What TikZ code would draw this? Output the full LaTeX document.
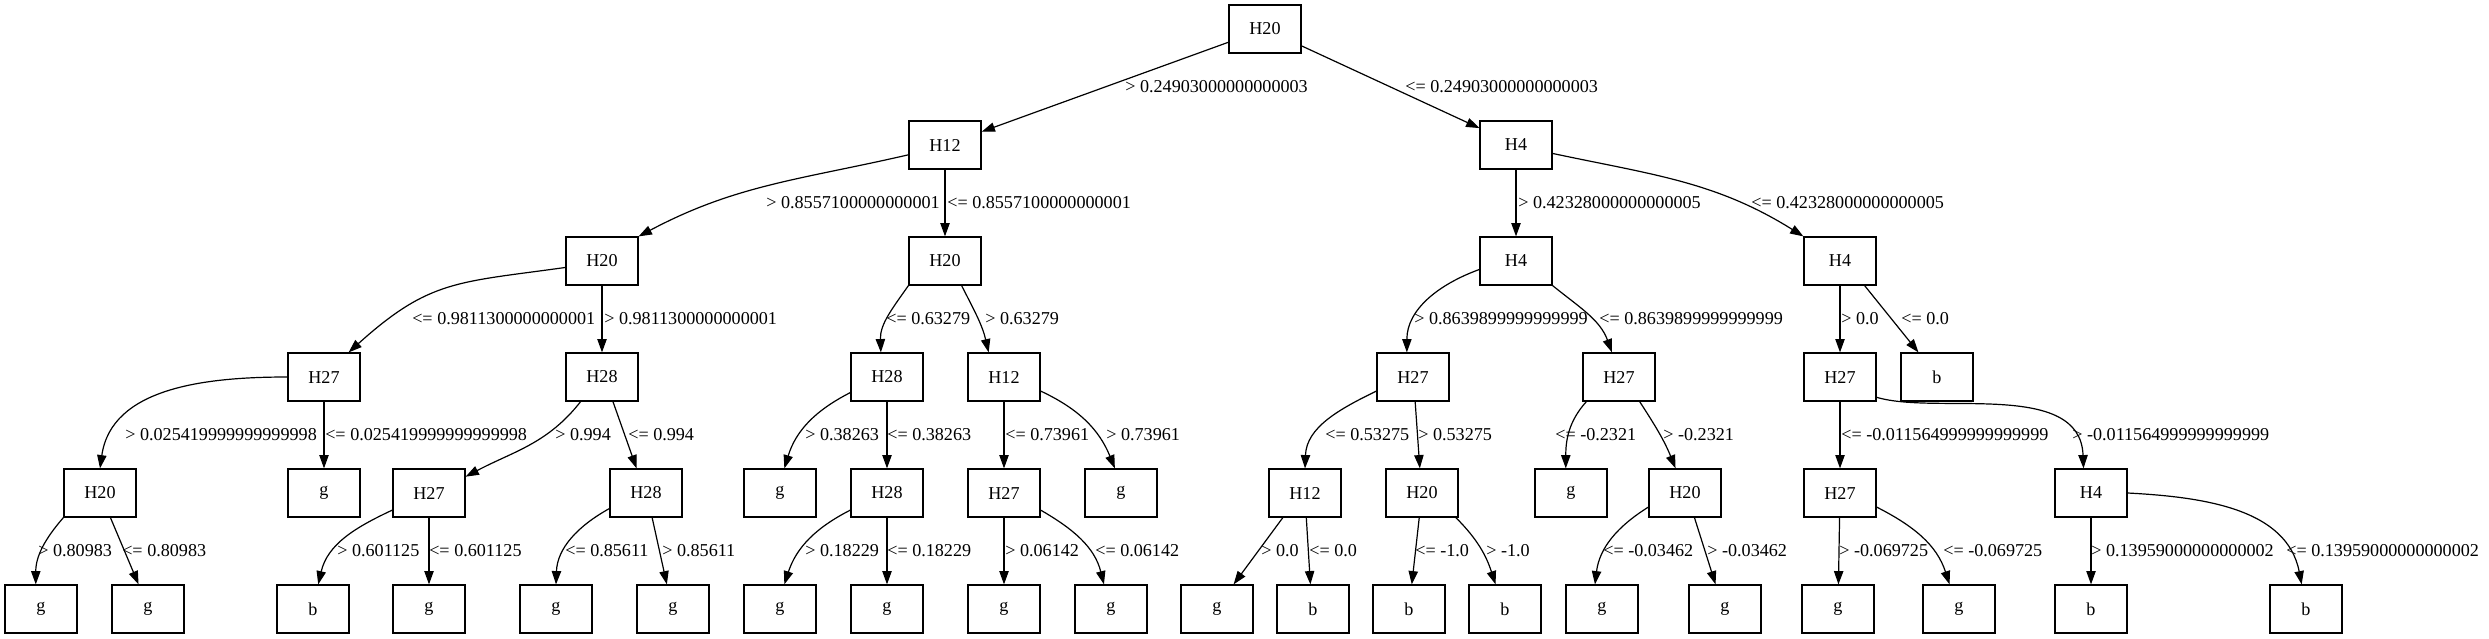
\documentclass[tikz,border=0pt]{standalone}
\usepackage{fontspec}
\setmainfont{Liberation Serif}
\usepackage{tikz}
\usetikzlibrary{arrows.meta}
\tikzstyle{box}=[draw,rectangle,line width=0.9pt,minimum width=54pt,minimum height=36pt,inner sep=0pt,font=\fontsize{13.6}{16}\selectfont]
\tikzstyle{cond}=[anchor=west,inner sep=0pt,font=\fontsize{13.6}{16}\selectfont]
\tikzstyle{edge}=[line width=0.9pt,-{Triangle[length=10pt,width=7pt]}]
\newcommand{\tnode}[4]{
  \node[box] (#1) at (#2, -#3) {#4};
}
\newcommand{\cnd}[4]{
  \node[cond] (#1) at (#2, -#3) {#4};
}

\begin{document}
\begin{tikzpicture}[x=0.75pt,y=0.75pt]
\useasboundingbox (0,0) rectangle (2489,-639);
\tnode{n}{1265}{29}{H20};
\tnode{nL}{945}{145}{H12};
\tnode{nR}{1516}{145}{H4};
\tnode{nLL}{602}{261}{H20};
\tnode{nLR}{945}{261}{H20};
\tnode{nRL}{1516}{261}{H4};
\tnode{nRR}{1840}{261}{H4};
\tnode{nLLL}{324}{377}{H27};
\tnode{nLLR}{602}{377}{H28};
\tnode{nLRL}{887}{377}{H28};
\tnode{nLRR}{1004}{377}{H12};
\tnode{nRLL}{1413}{377}{H27};
\tnode{nRLR}{1619}{377}{H27};
\tnode{nRRL}{1840}{377}{H27};
\tnode{nRRR}{1937}{377}{b};
\tnode{nLLLL}{100}{493}{H20};
\tnode{nLLLR}{324}{493}{g};
\tnode{nLLRL}{429}{493}{H27};
\tnode{nLLRR}{646}{493}{H28};
\tnode{nLRLL}{780}{493}{g};
\tnode{nLRLR}{887}{493}{H28};
\tnode{nLRRL}{1004}{493}{H27};
\tnode{nLRRR}{1121}{493}{g};
\tnode{nRLLL}{1305}{493}{H12};
\tnode{nRLLR}{1422}{493}{H20};
\tnode{nRLRL}{1571}{493}{g};
\tnode{nRLRR}{1685}{493}{H20};
\tnode{nRRLL}{1840}{493}{H27};
\tnode{nRRLR}{2091}{493}{H4};
\tnode{nLLLLL}{41}{609}{g};
\tnode{nLLLLR}{148}{609}{g};
\tnode{nLLRLL}{313}{609}{b};
\tnode{nLLRLR}{429}{609}{g};
\tnode{nLLRRL}{556}{609}{g};
\tnode{nLLRRR}{673}{609}{g};
\tnode{nLRLRL}{780}{609}{g};
\tnode{nLRLRR}{887}{609}{g};
\tnode{nLRRLL}{1004}{609}{g};
\tnode{nLRRLR}{1111}{609}{g};
\tnode{nRLLLL}{1217}{609}{g};
\tnode{nRLLLR}{1313}{609}{b};
\tnode{nRLLRL}{1409}{609}{b};
\tnode{nRLLRR}{1505}{609}{b};
\tnode{nRLRRL}{1602}{609}{g};
\tnode{nRLRRR}{1725}{609}{g};
\tnode{nRRLLL}{1838}{609}{g};
\tnode{nRRLLR}{1959}{609}{g};
\tnode{nRRLRL}{2091}{609}{b};
\tnode{nRRLRR}{2306}{609}{b};
\draw[edge] (n) -- (nL);
\draw[edge] (n) -- (nR);
\draw[edge] (nL.195) to[out=193,in=28] (nLL.north east);
\draw[edge] (nL) -- (nLR);
\draw[edge] (nR) -- (nRL);
\draw[edge] (nR.-13) to[out=-12,in=148] (nRR.north west);
\draw[edge] (nLL.190) to[out=188,in=42,looseness=1.2] (nLLL.45);
\draw[edge] (nLL) -- (nLLR);
\draw[edge] (nLR.south west) to[out=235,in=92] (nLRL.104);
\draw[edge] (nLR.-56) to[out=-63,in=103] (nLRR.122);
\draw[edge] (nRL.193) to[out=200,in=90] (nRLL.104);
\draw[edge] (nRL.south east) to[out=-39,in=110] (nRLR.106);
\draw[edge] (nRR) -- (nRRL);
\draw[edge] (nRR.-45) -- (nRRR.127);
\draw[edge] (nLLL.west) to[out=180,in=82] (nLLLL.north);
\draw[edge] (nLLL) -- (nLLLR);
\draw[edge] (nLLR.229) to[out=232,in=28] (nLLRL.24);
\draw[edge] (nLLR.-66) -- (nLLRR.111);
\draw[edge] (nLRL.203) to[out=207,in=73] (nLRLL.80);
\draw[edge] (nLRL) -- (nLRLR);
\draw[edge] (nLRR) -- (nLRRL);
\draw[edge] (nLRR.-21) to[out=-25,in=112] (nLRRR.104);
\draw[edge] (nRLL.201) to[out=206,in=88] (nRLLL.north);
\draw[edge] (nRLL.-85) -- (nRLLR.95);
\draw[edge] (nRLR.217) to[out=228,in=90] (nRLRL.102);
\draw[edge] (nRLR.-50) to[out=-57,in=112] (nRLRR.111);
\draw[edge] (nRRL) -- (nRRLL);
\draw[edge] (nRRL.-29) .. controls +(60,-18) and +(-3,89) .. (nRRLR.107);
\draw[edge] (nLLLL.south west) to[out=229,in=90] (nLLLLL.102);
\draw[edge] (nLLLL.-67) -- (nLLLLR.111);
\draw[edge] (nLLRL.205) to[out=205,in=77] (nLLRLL.78);
\draw[edge] (nLLRL) -- (nLLRLR);
\draw[edge] (nLLRR.203) to[out=209,in=88] (nLLRRL.north);
\draw[edge] (nLLRR.-76) -- (nLLRRR.104);
\draw[edge] (nLRLR.205) to[out=207,in=72] (nLRLRL.80);
\draw[edge] (nLRLR) -- (nLRLRR);
\draw[edge] (nLRRL) -- (nLRRLL);
\draw[edge] (nLRRL.-25) to[out=-30,in=104] (nLRRLR.106);
\draw[edge] (nRLLL.228) -- (nRLLLL.56);
\draw[edge] (nRLLL.-87) -- (nRLLLR.96);
\draw[edge] (nRLLR) -- (nRLLRL);
\draw[edge] (nRLLR.-36) to[out=-45,in=108] (nRLLRR.111);
\draw[edge] (nRLRR.201) to[out=212,in=83] (nRLRRL.106);
\draw[edge] (nRLRR.-69) -- (nRLRRR.111);
\draw[edge] (nRRLL) -- (nRRLLL);
\draw[edge] (nRRLL.-21) to[out=-27,in=108] (nRRLLR.111);
\draw[edge] (nRRLR) -- (nRRLRL);
\draw[edge] (nRRLR.east) to[out=-3,in=101] (nRRLRR.100);
\cnd{cL}{1125}{87}{> 0.24903000000000003};
\cnd{cR}{1405}{87}{<= 0.24903000000000003};
\cnd{cLL}{766}{203}{> 0.8557100000000001};
\cnd{cLR}{947}{203}{<= 0.8557100000000001};
\cnd{cRL}{1518}{203}{> 0.42328000000000005};
\cnd{cRR}{1751}{203}{<= 0.42328000000000005};
\cnd{cLLL}{412}{319}{<= 0.9811300000000001};
\cnd{cLLR}{604}{319}{> 0.9811300000000001};
\cnd{cLRL}{886}{319}{<= 0.63279};
\cnd{cLRR}{985}{319}{> 0.63279};
\cnd{cRLL}{1414}{319}{> 0.8639899999999999};
\cnd{cRLR}{1599}{319}{<= 0.8639899999999999};
\cnd{cRRL}{1841}{319}{> 0.0};
\cnd{cRRR}{1901}{319}{<= 0.0};
\cnd{cLLLL}{125}{435}{> 0.025419999999999998};
\cnd{cLLLR}{325}{435}{<= 0.025419999999999998};
\cnd{cLLRL}{555}{435}{> 0.994};
\cnd{cLLRR}{628}{435}{<= 0.994};
\cnd{cLRLL}{805}{435}{> 0.38263};
\cnd{cLRLR}{887}{435}{<= 0.38263};
\cnd{cLRRL}{1005}{435}{<= 0.73961};
\cnd{cLRRR}{1106}{435}{> 0.73961};
\cnd{cRLLL}{1325}{435}{<= 0.53275};
\cnd{cRLLR}{1418}{435}{> 0.53275};
\cnd{cRLRL}{1555}{435}{<= -0.2321};
\cnd{cRLRR}{1663}{435}{> -0.2321};
\cnd{cRRLL}{1841}{435}{<= -0.011564999999999999};
\cnd{cRRLR}{2072}{435}{> -0.011564999999999999};
\cnd{cLLLLL}{38}{551}{> 0.80983};
\cnd{cLLLLR}{122}{551}{<= 0.80983};
\cnd{cLLRLL}{337}{551}{> 0.601125};
\cnd{cLLRLR}{429}{551}{<= 0.601125};
\cnd{cLLRRL}{565}{551}{<= 0.85611};
\cnd{cLLRRR}{662}{551}{> 0.85611};
\cnd{cLRLRL}{805}{551}{> 0.18229};
\cnd{cLRLRR}{887}{551}{<= 0.18229};
\cnd{cLRRLL}{1005}{551}{> 0.06142};
\cnd{cLRRLR}{1095}{551}{<= 0.06142};
\cnd{cRLLLL}{1261}{551}{> 0.0};
\cnd{cRLLLR}{1309}{551}{<= 0.0};
\cnd{cRLLRL}{1415}{551}{<= -1.0};
\cnd{cRLLRR}{1486}{551}{> -1.0};
\cnd{cRLRRL}{1603}{551}{<= -0.03462};
\cnd{cRLRRR}{1707}{551}{> -0.03462};
\cnd{cRRLLL}{1839}{551}{> -0.069725};
\cnd{cRRLLR}{1943}{551}{<= -0.069725};
\cnd{cRRLRL}{2091}{551}{> 0.13959000000000002};
\cnd{cRRLRR}{2286}{551}{<= 0.13959000000000002};
\end{tikzpicture}
\end{document}
